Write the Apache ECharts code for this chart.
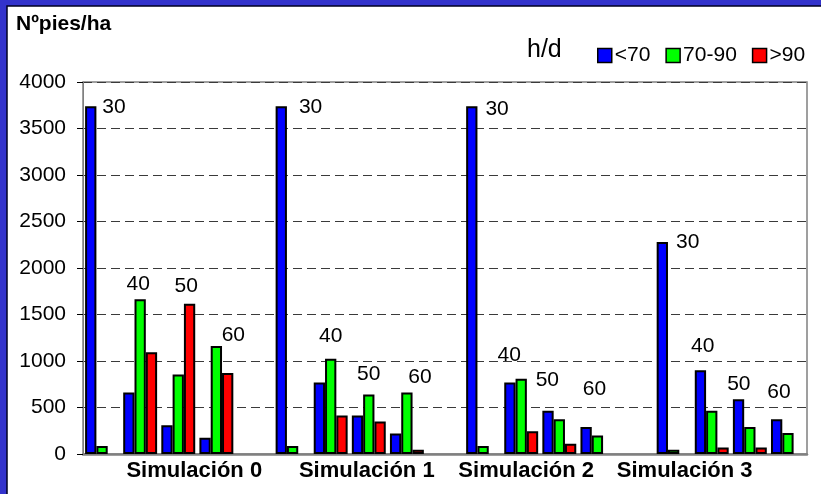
<!DOCTYPE html>
<html>
<head>
<meta charset="utf-8">
<script src="https://cdn.jsdelivr.net/npm/echarts@6/dist/echarts.min.js"></script>
<style>
  html, body { margin: 0; padding: 0; background: #3333cc; }
  #chart { width: 821px; height: 494px; }
</style>
</head>
<body>
<div id="chart"></div>
<script>
// Simulations and the h/d classes inside each one
const simulaciones = ['Simulación 0', 'Simulación 1', 'Simulación 2', 'Simulación 3'];
const clases = ['30', '40', '50', '60'];
const seriesNames = ['<70', '70-90', '>90'];

// Nº pies/ha per simulation (4 classes each: 30, 40, 50, 60)
const menos70 = [3740, 660, 310, 175,   3740, 770, 415, 220,   3740, 770, 465, 290,   2280, 900, 590, 375];
const de70a90 = [85, 1665, 855, 1160,   85, 1025, 640, 660,    85, 810, 375, 200,     45, 465, 290, 225];
const mas90   = [0, 1095, 1615, 870,    0, 415, 350, 45,       0, 245, 110, 0,        0, 70, 70, 0];

const yMin = 0, yMax = 4000, yStep = 500;

// Placement tweaks for the class labels (px, relative to the tallest bar of each class)
const classLabelOffsets = [
  [12, 1], [-2, -15], [8, -18], [17, -11],
  [18, 1], [0, -22], [0, -20], [13, -15],
  [14, 3], [-12, -23], [-12, -31], [-3, -38],
  [14, 0], [-9, -24], [-11, -15], [-9, -27]
];
// Which slot carries each simulation name, and a horizontal nudge
const simLabelSlot = [2, 7, 11, 15];
const simLabelShift = [16, -2, 5, 11];

// Build the slot layout: 4 classes per simulation, a blank slot between simulations
const slots = [];
const slotOfValue = [];
simulaciones.forEach((s, si) => {
  clases.forEach((c) => { slotOfValue.push(slots.length); slots.push(s + ' ' + c); });
  if (si < simulaciones.length - 1) slots.push('');
});
function toSlots(values) {
  const out = slots.map(() => '-');
  values.forEach((v, k) => { out[slotOfValue[k]] = v > 0 ? v : '-'; });
  return out;
}
const colors = ['#0000ff', '#00ff00', '#ff0000'];
const valueSets = [menos70, de70a90, mas90];
const FONT = 'Liberation Sans, Arial, sans-serif';

const barSeries = valueSets.map((vals, i) => ({
  name: seriesNames[i],
  type: 'bar',
  data: toSlots(vals),
  barGap: '0%',
  barCategoryGap: '11%',
  itemStyle: { color: colors[i], borderColor: '#000000', borderWidth: 2, borderType: 'solid', opacity: 1 },
  emphasis: { disabled: true }
}));

const labelSeries = {
  type: 'scatter',
  symbolSize: 0,
  silent: true,
  z: 5,
  itemStyle: { opacity: 1 },
  data: menos70.map((v, k) => ({
    value: [slotOfValue[k], Math.max(menos70[k], de70a90[k], mas90[k])],
    label: {
      show: true,
      formatter: clases[k % 4],
      position: 'inside',
      offset: classLabelOffsets[k],
      color: '#000000',
      opacity: 1,
      textBorderWidth: 0,
      fontSize: 21,
      fontFamily: FONT
    }
  }))
};

const simLabelRich = {};
simLabelShift.forEach((d, i) => {
  simLabelRich['s' + i] = {
    fontSize: 22, fontWeight: 'bold', color: '#000',
    fontFamily: FONT,
    padding: d >= 0 ? [0, 0, 0, 2 * d] : [0, -2 * d, 0, 0]
  };
});

const chart = echarts.init(document.getElementById('chart'), null, { renderer: 'canvas' });
chart.setOption({
  animation: false,
  backgroundColor: '#3333cc',
  graphic: [{
    type: 'rect', z: -10, silent: true,
    shape: { x: 7, y: 6, width: 830, height: 500 },
    style: { fill: '#ffffff', stroke: '#000022', lineWidth: 1.5 }
  }],
  title: [
    { text: 'Nºpies/ha', left: 11, top: 9,
      textStyle: { fontSize: 21, fontWeight: 'bold', color: '#000', fontFamily: FONT } },
    { text: 'h/d', left: 522, top: 33,
      textStyle: { fontSize: 25, fontWeight: 'normal', color: '#000', fontFamily: FONT } }
  ],
  legend: {
    data: seriesNames,
    left: 592, top: 40,
    itemWidth: 14, itemHeight: 14, itemGap: 15,
    icon: 'rect',
    itemStyle: { borderColor: '#000', borderWidth: 1.5 },
    textStyle: { fontSize: 21, color: '#000', padding: [0, 0, 0, -2], fontFamily: FONT }
  },
  grid: {
    left: 83, right: 14, top: 82, bottom: 40,
    show: true, borderColor: '#808080', borderWidth: 1.5, backgroundColor: 'transparent'
  },
  xAxis: {
    type: 'category',
    data: slots,
    axisLine: { lineStyle: { color: '#808080', width: 2.5 } },
    axisTick: { show: false },
    axisLabel: {
      interval: 0,
      margin: 6,
      formatter: (value, idx) => {
        const j = simLabelSlot.indexOf(idx);
        return j >= 0 ? '{s' + j + '|' + simulaciones[j] + '}' : '';
      },
      rich: simLabelRich
    }
  },
  yAxis: {
    type: 'value',
    min: yMin, max: yMax, interval: yStep,
    axisLine: { show: true, lineStyle: { color: '#808080', width: 1 } },
    axisTick: { show: true, length: 6, lineStyle: { color: '#000' } },
    axisLabel: { fontSize: 21, color: '#000', margin: 17, fontFamily: FONT, formatter: (v) => String(v) },
    splitLine: { lineStyle: { color: '#3a3a3a', type: [9, 5], width: 1 } }
  },
  series: [...barSeries, labelSeries]
});
</script>
</body>
</html>
